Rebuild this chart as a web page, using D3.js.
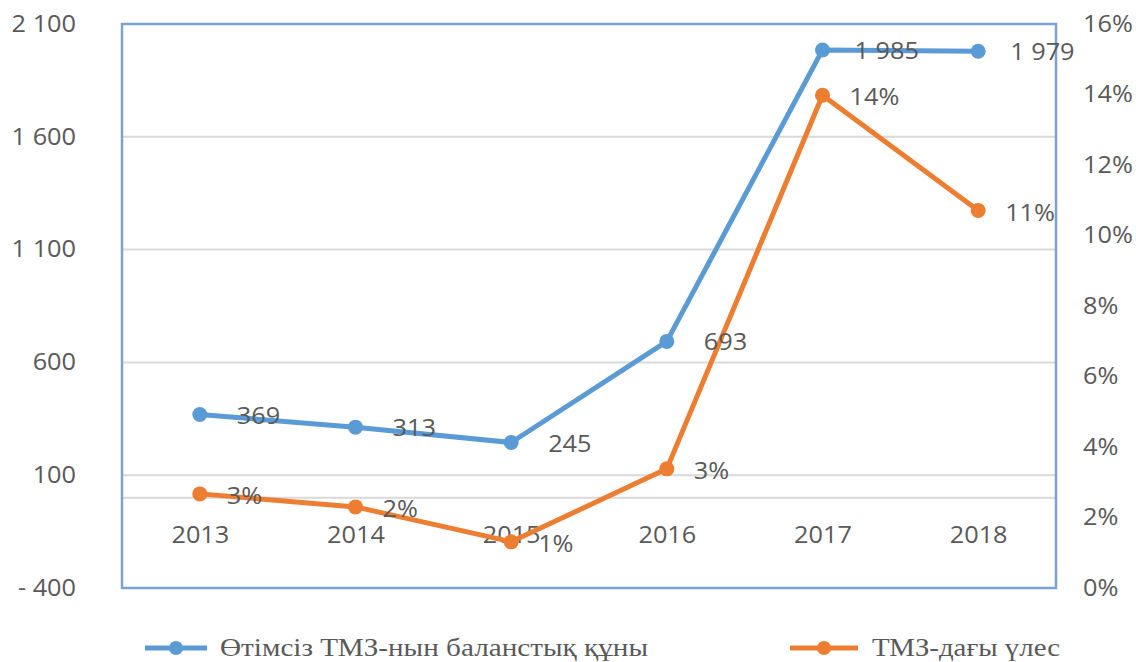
<!DOCTYPE html>
<html>
<head>
<meta charset="utf-8">
<script src="https://cdn.jsdelivr.net/npm/d3@7"></script>
<style>
  html, body { margin: 0; padding: 0; background: #ffffff; }
  svg { display: block; }
</style>
</head>
<body>
<svg id="chart" width="1136" height="662"></svg>
<script>
// Inventory data by year
const years = ["2013", "2014", "2015", "2016", "2017", "2018"];
const bookValue = [369, 313, 245, 693, 1985, 1979];          // left axis
const shareOfInventory = [0.0267, 0.0230, 0.0131, 0.0338, 0.1398, 0.1071]; // right axis

const leftTicks = [-400, 100, 600, 1100, 1600, 2100];
const leftTickLabels = ["- 400", "100", "600", "1 100", "1 600", "2 100"];
const rightTicks = [0, 0.02, 0.04, 0.06, 0.08, 0.10, 0.12, 0.14, 0.16];

const seriesNames = ["Өтімсіз ТМЗ-нын баланстық құны", "ТМЗ-дағы үлес"];

const W = 1136, H = 662;
const plot = { left: 122, right: 1056, top: 24, bottom: 588 };
const BLUE = "#5b9bd5", ORANGE = "#ed7d31", TEXT = "#595959", GRID = "#d9d9d9";
const FONT = "'Open Sans', 'Liberation Sans', sans-serif";
const STRETCH = 1.1; // labels are set slightly wide

const svg = d3.select("#chart");

const x = d3.scalePoint().domain(years)
  .range([plot.left, plot.right]).padding(0.5);
const yL = d3.scaleLinear().domain([-400, 2100]).range([plot.bottom, plot.top]);
const yR = d3.scaleLinear().domain([0, 0.16]).range([plot.bottom, plot.top]);

const locale = d3.formatLocale({ decimal: ",", thousands: " ", grouping: [3], currency: ["", ""] });
const fmtNum = locale.format(",d");
const fmtPct = d3.format(".0%");

// widen a text selection horizontally around its own anchor x
function widen(sel) {
  sel.each(function () {
    const t = d3.select(this);
    const ax = +t.attr("x") || 0;
    t.attr("transform", `translate(${ax},0) scale(${STRETCH},1) translate(${-ax},0)`);
  });
}

// Horizontal gridlines (inner ticks only) and the zero line
const gridVals = leftTicks.filter(v => v > -400 && v < 2100).concat([0]);
svg.append("g").selectAll("line").data(gridVals).join("line")
  .attr("x1", plot.left).attr("x2", plot.right)
  .attr("y1", d => yL(d)).attr("y2", d => yL(d))
  .attr("stroke", GRID).attr("stroke-width", 2);

// Plot area border
svg.append("rect")
  .attr("x", plot.left).attr("y", plot.top)
  .attr("width", plot.right - plot.left).attr("height", plot.bottom - plot.top)
  .attr("fill", "none").attr("stroke", "#7ba3d1").attr("stroke-width", 2.5);

// Left axis
const leftAxis = d3.axisLeft(yL).tickValues(leftTicks).tickSize(0).tickPadding(0)
  .tickFormat((d, i) => leftTickLabels[i]);
const gL = svg.append("g").attr("transform", "translate(76,0)").call(leftAxis);
gL.select(".domain").remove();
gL.selectAll("text").attr("fill", TEXT).style("font-family", FONT).style("font-size", "23px").call(widen);

// Right axis
const rightAxis = d3.axisRight(yR).tickValues(rightTicks).tickSize(0).tickPadding(0)
  .tickFormat(fmtPct);
const gR = svg.append("g").attr("transform", "translate(1083,0)").call(rightAxis);
gR.select(".domain").remove();
gR.selectAll("text").attr("fill", TEXT).style("font-family", FONT).style("font-size", "23px").call(widen);

// Category labels sit below the zero line
const xAxis = d3.axisBottom(x).tickSize(0).tickPadding(0);
const gX = svg.append("g").attr("transform", `translate(0,${yL(0) + 38})`).call(xAxis);
gX.select(".domain").remove();
gX.selectAll("text").attr("fill", TEXT).attr("dy", "0.32em")
  .style("font-family", FONT).style("font-size", "23px").call(widen);

// Series
function drawSeries(values, yScale, color) {
  const pts = values.map((v, i) => [x(years[i]), yScale(v)]);
  svg.append("path").datum(pts)
    .attr("d", d3.line())
    .attr("fill", "none").attr("stroke", color)
    .attr("stroke-width", 5).attr("stroke-linejoin", "round").attr("stroke-linecap", "round");
  svg.append("g").selectAll("circle").data(pts).join("circle")
    .attr("cx", d => d[0]).attr("cy", d => d[1]).attr("r", 7.5).attr("fill", color);
  return pts;
}

drawSeries(bookValue, yL, BLUE);
drawSeries(shareOfInventory, yR, ORANGE);

// Data labels, to the right of each point
svg.append("g").selectAll("text").data(bookValue).join("text")
  .attr("x", (d, i) => x(years[i]) + (d >= 1000 ? 32 : 37))
  .attr("y", d => yL(d) + 1)
  .attr("dy", "0.35em")
  .attr("fill", TEXT).style("font-family", FONT).style("font-size", "23px")
  .text(d => fmtNum(d)).call(widen);

svg.append("g").selectAll("text").data(shareOfInventory).join("text")
  .attr("x", (d, i) => x(years[i]) + 27)
  .attr("y", d => yR(d) + 2)
  .attr("dy", "0.35em")
  .attr("fill", TEXT).style("font-family", FONT).style("font-size", "23px")
  .text(d => fmtPct(d)).call(widen);

// Legend
const legendY = 648;
const legendItems = [
  { name: seriesNames[0], color: BLUE, x0: 145, len: 62, tx: 220, tw: 428 },
  { name: seriesNames[1], color: ORANGE, x0: 790, len: 68, tx: 872, tw: 188 }
];
const lg = svg.append("g").selectAll("g").data(legendItems).join("g");
lg.append("line")
  .attr("x1", d => d.x0).attr("x2", d => d.x0 + d.len)
  .attr("y1", legendY).attr("y2", legendY)
  .attr("stroke", d => d.color).attr("stroke-width", 5);
lg.append("circle")
  .attr("cx", d => d.x0 + d.len / 2).attr("cy", legendY).attr("r", 7).attr("fill", d => d.color);
lg.append("text")
  .attr("x", d => d.tx).attr("y", legendY).attr("dy", "0.33em")
  .attr("textLength", d => d.tw).attr("lengthAdjust", "spacingAndGlyphs")
  .attr("fill", TEXT).style("font-family", "'Liberation Serif', 'DejaVu Serif', serif")
  .style("font-size", "25px")
  .text(d => d.name);
</script>
</body>
</html>
